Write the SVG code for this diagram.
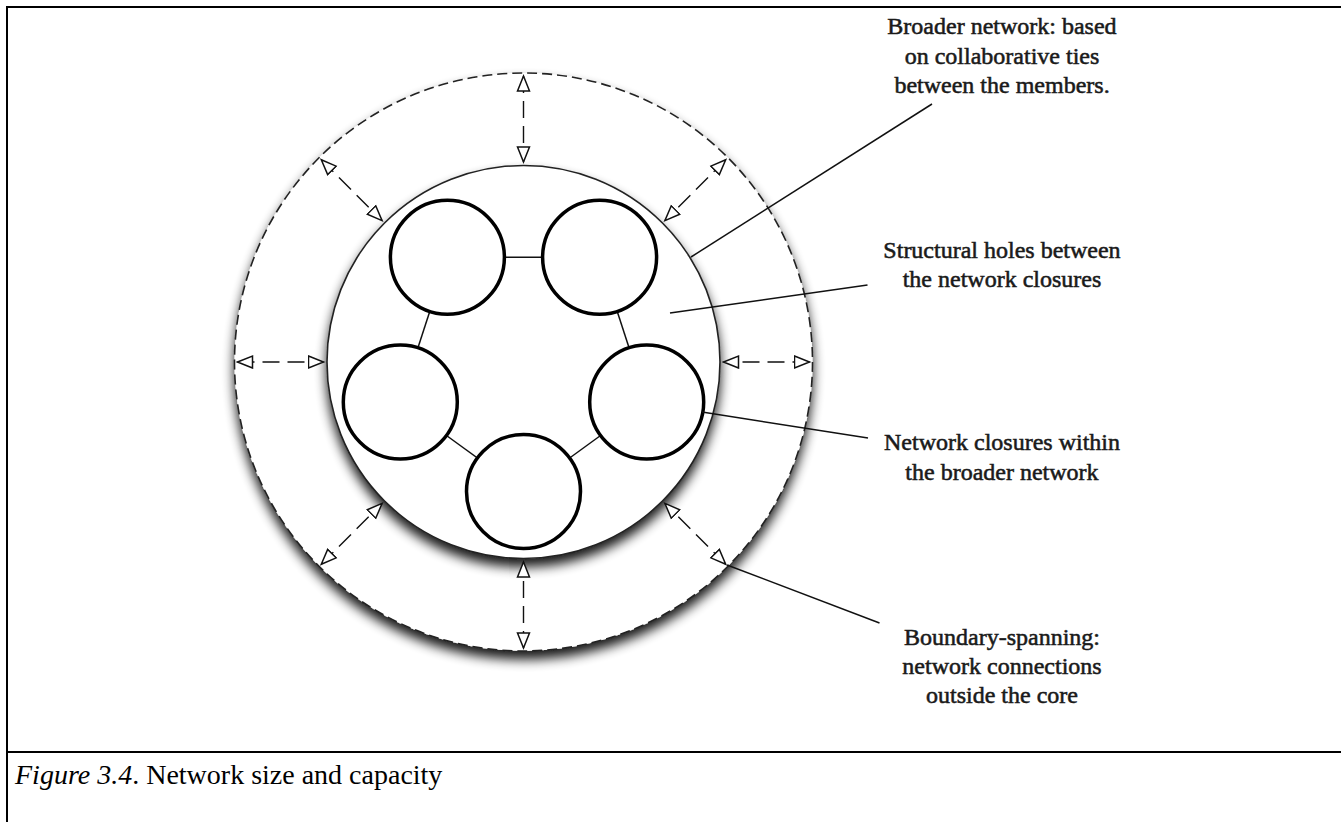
<svg xmlns="http://www.w3.org/2000/svg" width="1341" height="822" viewBox="0 0 1341 822">
  <style>
    .frame { stroke: #000; stroke-width: 2; fill: none; }
    .ring-outer { fill: #fff; stroke: #222; stroke-width: 1.6; stroke-dasharray: 10 5; }
    .ring-inner { fill: #fff; stroke: #222; stroke-width: 1.6; }
    .closure { fill: #fff; stroke: #000; stroke-width: 3.5; }
    .tie { stroke: #111; stroke-width: 1.5; fill: none; }
    .span { stroke: #111; stroke-width: 1.4; fill: none; stroke-dasharray: 17 8; marker-start: url(#head); marker-end: url(#head); }
    .leader { stroke: #111; stroke-width: 1.5; fill: none; }
    .label { font-family: "Liberation Serif", "Times New Roman", serif; font-size: 24px; fill: #1a1a1a; stroke: #1a1a1a; stroke-width: 0.55; text-anchor: middle; }
    .caption { font-family: "Liberation Serif", "Times New Roman", serif; font-size: 28px; fill: #000; }
  </style>
  <defs>
    <filter id="shadow" x="-15%" y="-15%" width="130%" height="135%">
      <feGaussianBlur in="SourceAlpha" stdDeviation="6"/>
      <feOffset dx="0" dy="8" result="blur"/>
      <feComponentTransfer>
        <feFuncA type="linear" slope="0.9"/>
      </feComponentTransfer>
      <feMerge>
        <feMergeNode/>
        <feMergeNode in="SourceGraphic"/>
      </feMerge>
    </filter>
    <marker id="head" viewBox="-1 -8 18 16" refX="15" refY="0" markerWidth="18" markerHeight="16" markerUnits="userSpaceOnUse" orient="auto-start-reverse">
      <path d="M0,-6 L15,0 L0,6 Z" fill="#fff" stroke="#111" stroke-width="1.5" stroke-linejoin="miter"/>
    </marker>
  </defs>

  <rect width="1341" height="822" fill="#fff"/>

  <!-- table frame -->
  <g id="frame">
    <line class="frame" x1="7" y1="7" x2="1341" y2="7"/>
    <line class="frame" x1="7" y1="6" x2="7" y2="822"/>
    <line class="frame" x1="7" y1="752" x2="1341" y2="752"/>
  </g>

  <!-- broader network boundary -->
  <g id="broader-network">
    <circle class="ring-outer" cx="523.5" cy="362" r="289" filter="url(#shadow)"/>
  </g>

  <!-- core -->
  <g id="core">
    <circle class="ring-inner" cx="523.5" cy="362" r="196.5" filter="url(#shadow)"/>
  </g>

  <!-- connectors -->
  <g id="connectors">
    <!-- ties between the closures -->
    <line class="tie" x1="447.4" y1="257.2" x2="599.6" y2="257.2"/>
    <line class="tie" x1="447.4" y1="257.2" x2="400.3" y2="402"/>
    <line class="tie" x1="599.6" y1="257.2" x2="646.7" y2="402"/>
    <line class="tie" x1="400.3" y1="402" x2="523.5" y2="491.5"/>
    <line class="tie" x1="646.7" y1="402" x2="523.5" y2="491.5"/>

    <!-- boundary-spanning arrows -->
    <line class="span" x1="809.5" y1="362" x2="723.5" y2="362"/>
    <line class="span" x1="725.7" y1="564.2" x2="664.9" y2="503.4"/>
    <line class="span" x1="523.5" y1="648" x2="523.5" y2="562"/>
    <line class="span" x1="321.3" y1="564.2" x2="382.1" y2="503.4"/>
    <line class="span" x1="237.5" y1="362" x2="323.5" y2="362"/>
    <line class="span" x1="321.3" y1="159.8" x2="382.1" y2="220.6"/>
    <line class="span" x1="523.5" y1="76" x2="523.5" y2="162"/>
    <line class="span" x1="725.7" y1="159.8" x2="664.9" y2="220.6"/>
  </g>

  <!-- network closures -->
  <g id="closure-top-left"><circle class="closure" cx="447.4" cy="257.2" r="57"/></g>
  <g id="closure-top-right"><circle class="closure" cx="599.6" cy="257.2" r="57"/></g>
  <g id="closure-left"><circle class="closure" cx="400.3" cy="402" r="57"/></g>
  <g id="closure-right"><circle class="closure" cx="646.7" cy="402" r="57"/></g>
  <g id="closure-bottom"><circle class="closure" cx="523.5" cy="491.5" r="57"/></g>

  <!-- callout leaders -->
  <g id="leaders">
    <line class="leader" x1="932" y1="104" x2="691" y2="257"/>
    <line class="leader" x1="867.5" y1="285" x2="670" y2="313"/>
    <line class="leader" x1="868" y1="438" x2="702" y2="412"/>
    <line class="leader" x1="879.5" y1="623" x2="727" y2="565"/>
  </g>

  <!-- callout texts -->
  <g id="label-broader">
    <text class="label" x="1002" y="34">Broader network: based</text>
    <text class="label" x="1002" y="64">on collaborative ties</text>
    <text class="label" x="1002" y="93">between the members.</text>
  </g>
  <g id="label-holes">
    <text class="label" x="1002" y="258">Structural holes between</text>
    <text class="label" x="1002" y="287">the network closures</text>
  </g>
  <g id="label-closures">
    <text class="label" x="1002" y="450">Network closures within</text>
    <text class="label" x="1002" y="480">the broader network</text>
  </g>
  <g id="label-spanning">
    <text class="label" x="1002" y="645">Boundary-spanning:</text>
    <text class="label" x="1002" y="674">network connections</text>
    <text class="label" x="1002" y="703">outside the core</text>
  </g>

  <!-- figure caption -->
  <g id="caption">
    <text class="caption" x="15" y="784"><tspan font-style="italic">Figure 3.4</tspan>. Network size and capacity</text>
  </g>
</svg>
